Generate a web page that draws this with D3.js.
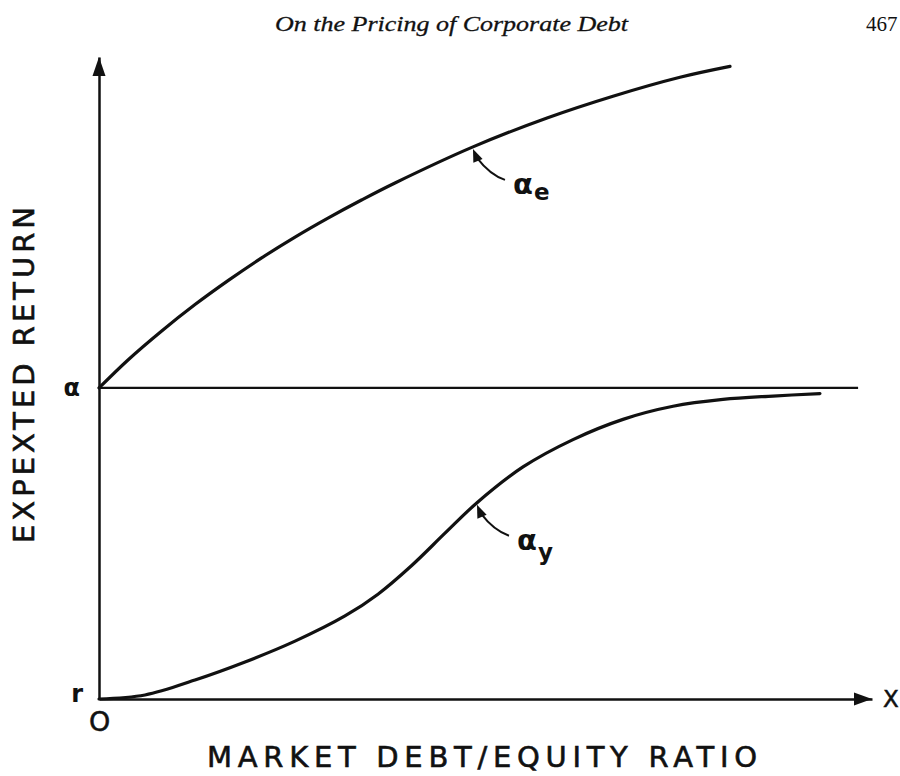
<!DOCTYPE html>
<html>
<head>
<meta charset="utf-8">
<script src="https://cdn.jsdelivr.net/npm/d3@7"></script>
<style>
  html, body { margin: 0; padding: 0; background: #fff; }
  svg { display: block; }
</style>
</head>
<body>
<svg id="chart" width="900" height="776"></svg>
<script>
// ---------------- DATA ----------------
// x: market debt/equity ratio (arbitrary units, 0..100)
// y: expected return, scaled so that r = 0 and alpha = 1
const alphaE_x = [0, 3.75, 8.15, 12.42, 16.69, 21.09, 25.36, 29.62, 34.02, 38.29, 48.38, 57.96, 66.49, 75.16, 81.63];
const alphaE_y = [1, 1.090, 1.184, 1.268, 1.345, 1.419, 1.485, 1.546, 1.605, 1.659, 1.775, 1.868, 1.938, 1.999, 2.034];

const alphaY_x = [0, 5.95, 12.42, 18.89, 25.36, 31.82, 36.09, 40.49, 44.76, 48.90, 54.85, 61.32, 67.79, 74.26, 80.72, 87.19, 93.27];
const alphaY_y = [0, 0.013, 0.061, 0.119, 0.186, 0.267, 0.337, 0.430, 0.533, 0.631, 0.746, 0.834, 0.899, 0.941, 0.963, 0.974, 0.982];

const alphaLine_x = [0, 98.2];
const alphaLine_y = [1, 1];

const yTickValues = [0, 1];
const yTickLabels = ["r", "α"];
const xTickValues = [0];
const xTickLabels = ["O"];

const xDomain = [0, 100];
const yDomain = [0, 2.064];

const headerTitle = "On the Pricing of Corporate Debt";
const pageNumber = "467";
const xTitle = "MARKET DEBT/EQUITY RATIO";
const yTitle = "EXPEXTED RETURN";
const xEndLabel = "X";

// annotations: tip on curve (data), label base + subscript
const annotations = [
  { tipX: 48.38, tipY: 1.775, base: "α", sub: "e" },
  { tipX: 48.90, tipY: 0.631, base: "α", sub: "y" }
];

// ---------------- DRAW ----------------
const svg = d3.select("#chart");
const ink = "#111";

const x = d3.scaleLinear().domain(xDomain).range([99, 872]);
const y = d3.scaleLinear().domain(yDomain).range([699, 57]);

// header
svg.append("text")
  .attr("x", 275).attr("y", 31)
  .attr("font-family", "Liberation Serif, serif")
  .attr("font-style", "italic")
  .attr("font-size", 22)
  .attr("textLength", 353)
  .attr("lengthAdjust", "spacingAndGlyphs")
  .attr("fill", ink)
  .attr("stroke", ink).attr("stroke-width", 0.3)
  .text(headerTitle);
svg.append("text")
  .attr("x", 866).attr("y", 31)
  .attr("font-family", "Liberation Serif, serif")
  .attr("font-size", 21)
  .attr("fill", ink)
  .text(pageNumber);

// axes
const yAxis = d3.axisLeft(y)
  .tickValues(yTickValues)
  .tickFormat((d, i) => yTickLabels[i])
  .tickSize(0).tickSizeOuter(0);
const gy = svg.append("g").attr("transform", `translate(${x(0)},0)`).call(yAxis);
gy.select(".domain").attr("stroke", ink).attr("stroke-width", 2.5);
gy.selectAll(".tick text")
  .attr("font-family", "DejaVu Sans, sans-serif")
  .attr("font-weight", "bold")
  .attr("font-size", 24)
  .attr("fill", ink)
  .attr("x", (d, i) => i === 0 ? -16 : -19)
  .attr("dy", (d, i) => i === 0 ? "0.1em" : "0.3em");

const xAxis = d3.axisBottom(x)
  .tickValues(xTickValues)
  .tickFormat((d, i) => xTickLabels[i])
  .tickSize(0).tickSizeOuter(0).tickPadding(13);
const gx = svg.append("g").attr("transform", `translate(0,${y(0)})`).call(xAxis);
gx.select(".domain").attr("stroke", ink).attr("stroke-width", 2.5);
gx.selectAll(".tick text")
  .attr("font-family", "DejaVu Sans, sans-serif")
  .attr("font-size", 27)
  .attr("fill", ink)
  .attr("stroke", ink).attr("stroke-width", 0.5);

// arrowheads of axes
const yTop = y(yDomain[1]);
svg.append("path")
  .attr("d", `M${x(0)},${yTop} L${x(0) - 6.5},${yTop + 19} L${x(0) + 6.5},${yTop + 19} Z`)
  .attr("fill", ink);
const xEnd = x(xDomain[1]);
svg.append("path")
  .attr("d", `M${xEnd},${y(0)} L${xEnd - 18},${y(0) - 6.5} L${xEnd - 18},${y(0) + 6.5} Z`)
  .attr("fill", ink);

svg.append("text")
  .attr("x", xEnd + 11).attr("y", y(0) + 8)
  .attr("font-family", "DejaVu Sans, sans-serif")
  .attr("font-size", 23)
  .attr("fill", ink)
  .attr("stroke", ink).attr("stroke-width", 0.5)
  .text(xEndLabel);

// axis titles
svg.append("text")
  .attr("x", 482).attr("y", 767)
  .attr("text-anchor", "middle")
  .attr("font-family", "DejaVu Sans, sans-serif")
  .attr("font-size", 29)
  .attr("textLength", 550)
  .attr("lengthAdjust", "spacing")
  .attr("fill", ink)
  .attr("stroke", ink).attr("stroke-width", 0.6)
  .text(xTitle);

svg.append("text")
  .attr("transform", "translate(34,375) rotate(-90)")
  .attr("text-anchor", "middle")
  .attr("font-family", "DejaVu Sans, sans-serif")
  .attr("font-size", 29)
  .attr("textLength", 336)
  .attr("lengthAdjust", "spacing")
  .attr("fill", ink)
  .attr("stroke", ink).attr("stroke-width", 0.6)
  .text(yTitle);

// alpha horizontal line
svg.append("line")
  .attr("x1", x(alphaLine_x[0])).attr("y1", y(alphaLine_y[0]))
  .attr("x2", x(alphaLine_x[1])).attr("y2", y(alphaLine_y[1]))
  .attr("stroke", ink).attr("stroke-width", 2.2);

// curves
const line = d3.line().x(d => x(d[0])).y(d => y(d[1])).curve(d3.curveCatmullRom.alpha(0.5));
const eData = alphaE_x.map((v, i) => [v, alphaE_y[i]]);
const yData = alphaY_x.map((v, i) => [v, alphaY_y[i]]);

svg.append("path").datum(eData).attr("d", line)
  .attr("fill", "none").attr("stroke", ink).attr("stroke-width", 3.2).attr("stroke-linecap", "round");
svg.append("path").datum(yData).attr("d", line)
  .attr("fill", "none").attr("stroke", ink).attr("stroke-width", 3.2).attr("stroke-linecap", "round");

// annotations
annotations.forEach((a, idx) => {
  const tx = x(a.tipX), ty = y(a.tipY) + 2;
  const sx = tx + 32, sy = ty + 31;
  const cx = tx + 17, cy = ty + 26;
  svg.append("path")
    .attr("d", `M${sx},${sy} Q${cx},${cy} ${tx + 4},${ty + 9}`)
    .attr("fill", "none").attr("stroke", ink).attr("stroke-width", 2);
  const ang = Math.atan2(-12, -5);
  const L = 13, W = 5;
  const bx = tx - L * Math.cos(ang), by = ty - L * Math.sin(ang);
  const px = -Math.sin(ang) * W, py = Math.cos(ang) * W;
  svg.append("path")
    .attr("d", `M${tx},${ty} L${bx + px},${by + py} L${bx - px},${by - py} Z`)
    .attr("fill", ink);
  const lx = tx + 40, ly = ty + 45;
  const t = svg.append("text")
    .attr("x", lx).attr("y", ly)
    .attr("font-family", "DejaVu Sans, sans-serif")
    .attr("font-weight", "bold")
    .attr("fill", ink);
  t.append("tspan").attr("font-size", 29).text(a.base);
  t.append("tspan").attr("font-size", 23).attr("dy", idx === 0 ? 6 : 10).attr("dx", 1).text(a.sub);
});
</script>
</body>
</html>
